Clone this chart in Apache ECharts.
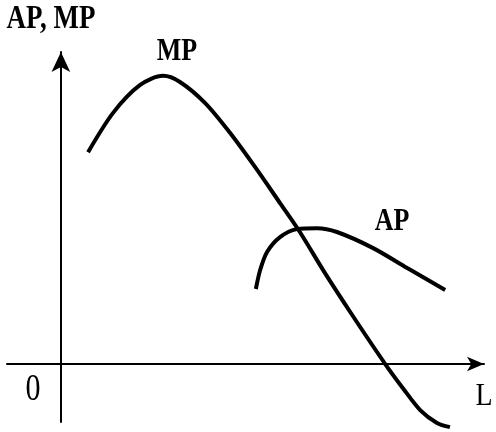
<!DOCTYPE html>
<html>
<head>
<meta charset="utf-8">
<script src="https://cdn.jsdelivr.net/npm/echarts@6/dist/echarts.min.js"></script>
<style>html,body{margin:0;padding:0;background:#fff;}#c{width:496px;height:432px;}</style>
</head>
<body>
<div id="c"></div>
<script>
// MP curve: [L, value]
var mpData = [[0.63,6.58],[1.21,7.80],[1.83,8.66],[2.37,8.95],[2.76,8.76],[3.34,8.11],[3.92,7.18],[4.50,6.12],[5.08,5.00],[5.54,4.10],[6.12,2.83],[6.75,1.53],[7.52,0],[7.93,-0.75],[8.33,-1.43],[8.72,-1.83],[9.02,-1.96]];
// AP curve: [L, value]
var apData = [[4.52,2.33],[4.62,2.92],[4.78,3.48],[5.08,3.94],[5.47,4.19],[5.94,4.22],[6.40,4.10],[7.24,3.60],[8.03,2.98],[8.91,2.30]];
var yAxisTitle = 'AP, MP';
var xAxisTitle = 'L';
var originLabel = '0';
var mpLabel = 'MP';
var apLabel = 'AP';

var chart = echarts.init(document.getElementById('c'));
var serif = '"Liberation Serif", "DejaVu Serif", serif';
function txt(s, x, y, size, weight, sy) {
  return {type:'text', x:x, y:y, scaleY:sy, style:{text:s, fill:'#000', font: weight+' '+size+'px '+serif, textAlign:'center', textVerticalAlign:'middle'}};
}
chart.setOption({
  animation:false,
  backgroundColor:'#fff',
  grid:{left:7, right:12, top:52, bottom:10},
  xAxis:{type:'value', min:-1.25, max:9.81, axisLine:{onZero:true, lineStyle:{color:'#000', width:2}, symbol:['none','arrow'], symbolSize:[11,17]},
    axisTick:{show:false}, axisLabel:{show:false}, splitLine:{show:false}},
  yAxis:{type:'value', min:-1.8, max:9.69, axisLine:{onZero:true, lineStyle:{color:'#000', width:2}, symbol:['none','arrow'], symbolSize:[14,20]},
    axisTick:{show:false}, axisLabel:{show:false}, splitLine:{show:false}},
  series:[
    {type:'line', data:mpData, smooth:0.3, showSymbol:false, clip:false, lineStyle:{color:'#000', width:4}},
    {type:'line', data:apData, smooth:0.3, showSymbol:false, clip:false, lineStyle:{color:'#000', width:4}}
  ],
  graphic:[
    txt(yAxisTitle, 51, 19, 27, 'bold', 1.22),
    txt(mpLabel, 177, 52, 26, 'bold', 1.25),
    txt(apLabel, 392, 222, 26, 'bold', 1.25),
    txt(originLabel, 33, 390, 30, 'normal', 1.25),
    txt(xAxisTitle, 484, 397, 28, 'normal', 1.1)
  ]
});
</script>
</body>
</html>
